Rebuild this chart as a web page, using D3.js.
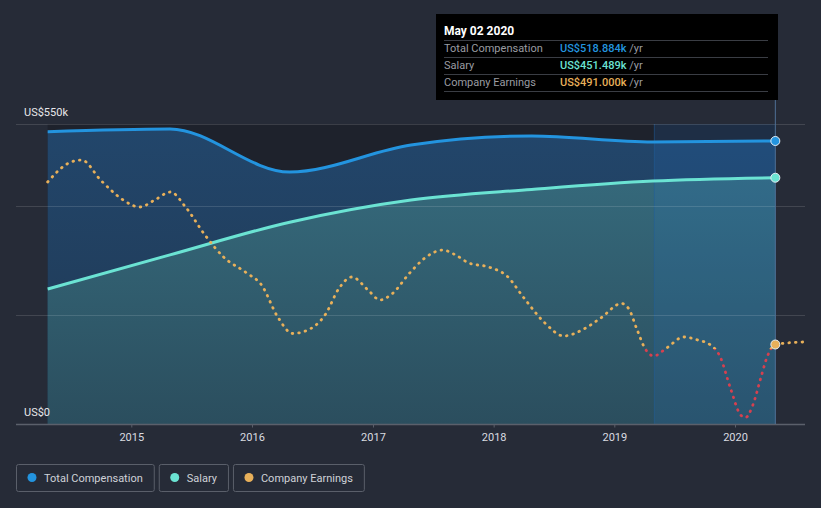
<!DOCTYPE html>
<html>
<head>
<meta charset="utf-8">
<script src="https://cdn.jsdelivr.net/npm/d3@7"></script>
<style>
  html, body { margin: 0; padding: 0; background: #262b37; }
  svg { display: block; font-family: Roboto, "Open Sans", sans-serif; }
</style>
</head>
<body>
<svg id="chart" width="821" height="508"></svg>
<script>
// ---------------- DATA ----------------
const compDates = ["2014-04-23","2015-04-28","2016-04-24","2017-04-26","2018-04-26","2019-04-27","2020-05-02"];
const totalCompensation = [536, 541, 462, 511.5, 528, 517, 518.884]; // US$k
const salary = [247.5, 310, 370, 410.7, 430, 445.5, 451.489];           // US$k

const earningsDates = [
  "2014-04-23","2014-06-26","2014-08-04","2014-09-30","2014-10-31","2014-12-03",
  "2015-01-27","2015-03-13","2015-04-30","2015-06-14","2015-08-14","2015-10-07","2015-12-16",
  "2016-01-30","2016-03-19","2016-05-03","2016-06-11","2016-08-11","2016-09-19","2016-10-29","2016-12-20",
  "2017-01-22","2017-02-27","2017-04-22","2017-06-07","2017-07-31","2017-09-08","2017-10-18","2017-12-17",
  "2018-02-10","2018-04-05","2018-06-05","2018-08-01","2018-10-01","2018-11-21",
  "2019-01-23","2019-02-14","2019-03-10","2019-04-03","2019-04-30","2019-06-08","2019-07-30","2019-09-10","2019-10-19","2019-11-16","2019-12-19",
  "2020-01-18","2020-02-02","2020-02-24","2020-03-19","2020-04-06","2020-05-02","2020-06-05","2020-07-24"
];
const companyEarnings = [
  18260, 20336, 20664, 18477, 17384, 16400,
  15525, 16291, 17165, 15525, 12355, 10059, 8309,
  6997, 3499, 1695, 1968, 3827, 6560, 7872, 6341,
  5357, 6013, 8309, 9949, 10824, 10277, 9403, 8965,
  7981, 5467, 2843, 1421, 2187, 3389,
  4975, 4373, 2187, 109, -765, 109, 1312, 984, 437, -765, -4373,
  -7216, -7489, -6123, -3171, -984, 491, 656, 765
]; // US$k

const yTickValues = [0, 200, 400, 550];
const yTickLabels = {0: "US$0", 550: "US$550k"};
const xTickYears = [2015, 2016, 2017, 2018, 2019, 2020];

const tooltipTitle = "May 02 2020";
const tooltipRows = [
  {label: "Total Compensation", value: "US$518.884k", color: "#2394df"},
  {label: "Salary", value: "US$451.489k", color: "#6be3d3"},
  {label: "Company Earnings", value: "US$491.000k", color: "#e8b05a"}
];
const legendItems = [
  {label: "Total Compensation", color: "#2394df"},
  {label: "Salary", color: "#6be3d3"},
  {label: "Company Earnings", color: "#e8b05a"}
];
const highlightStart = "2019-05-02";
const highlightEnd = "2020-05-02";

// ---------------- SCALES ----------------
const parse = d3.utcParse("%Y-%m-%d");
const svg = d3.select("#chart");

const x = d3.scaleUtc()
  .domain([new Date(Date.UTC(2015,0,1)), new Date(Date.UTC(2020,0,1))])
  .range([131.3, 735]);
const y = d3.scaleLinear().domain([0, 550]).range([424, 124]);
const ey = d3.scaleLinear().domain([-8200, 24600]).range([424, 124]);

const comp = compDates.map((d, i) => ({date: parse(d), total: totalCompensation[i], salary: salary[i]}));
const earn = earningsDates.map((d, i) => ({date: parse(d), v: companyEarnings[i]}));

const x0 = x(comp[0].date), x1 = x(comp[comp.length - 1].date);

const defs = svg.append("defs");
const g1 = defs.append("linearGradient").attr("id", "gTotal").attr("x1", 0).attr("y1", 0).attr("x2", 0).attr("y2", 1);
g1.append("stop").attr("offset", "0%").attr("stop-color", "#22466b");
g1.append("stop").attr("offset", "100%").attr("stop-color", "#203852");
const g2 = defs.append("linearGradient").attr("id", "gSalary").attr("x1", 0).attr("y1", 0).attr("x2", 0).attr("y2", 1);
g2.append("stop").attr("offset", "0%").attr("stop-color", "#35697b");
g2.append("stop").attr("offset", "100%").attr("stop-color", "#2b4e5e");

defs.append("clipPath").attr("id", "clipPos").append("rect")
  .attr("x", 0).attr("y", 0).attr("width", 821).attr("height", ey(0));
defs.append("clipPath").attr("id", "clipNeg").append("rect")
  .attr("x", 0).attr("y", ey(0)).attr("width", 821).attr("height", 508 - ey(0));

// plot dark background
svg.append("rect").attr("x", x0).attr("y", y(550)).attr("width", x1 - x0).attr("height", y(0) - y(550))
  .attr("fill", "#1e222c");

// areas
const curve = d3.curveMonotoneX;
svg.append("path").datum(comp)
  .attr("d", d3.area().x(d => x(d.date)).y0(y(0)).y1(d => y(d.total)).curve(curve))
  .attr("fill", "url(#gTotal)");
svg.append("path").datum(comp)
  .attr("d", d3.area().x(d => x(d.date)).y0(y(0)).y1(d => y(d.salary)).curve(curve))
  .attr("fill", "url(#gSalary)");

// highlight band (last year)
const hx0 = x(parse(highlightStart)), hx1 = x(parse(highlightEnd));
svg.append("rect").attr("x", hx0).attr("y", y(550)).attr("width", hx1 - hx0).attr("height", y(0) - y(550))
  .attr("fill", "#1f78d6").attr("fill-opacity", 0.15);
svg.append("line").attr("x1", hx0).attr("x2", hx0).attr("y1", y(550)).attr("y2", y(0))
  .attr("stroke", "#1f5f9f").attr("stroke-opacity", 0.5);

// gridlines
svg.append("g").selectAll("line").data(yTickValues).join("line")
  .attr("x1", 16).attr("x2", 805)
  .attr("y1", d => Math.round(y(d)) + 0.5).attr("y2", d => Math.round(y(d)) + 0.5)
  .attr("stroke", d => d === 0 ? "#5b606b" : "#ffffff")
  .attr("stroke-opacity", d => d === 0 ? 1 : 0.13)
  .attr("stroke-width", d => d === 0 ? 1.5 : 1);

// y labels
svg.append("g").selectAll("text").data(yTickValues.filter(v => yTickLabels[v])).join("text")
  .attr("x", 24).attr("y", d => y(d) - 8)
  .attr("fill", "#e6e7ea").attr("font-size", 11)
  .text(d => yTickLabels[d]);

// x axis
const xAxis = d3.axisBottom(x)
  .tickValues(xTickYears.map(yr => new Date(Date.UTC(yr, 0, 1))))
  .tickFormat(d3.utcFormat("%Y"))
  .tickSize(3).tickPadding(6);
const ax = svg.append("g").attr("transform", "translate(0,424.5)").call(xAxis);
ax.select(".domain").remove();
ax.selectAll("line").attr("stroke", "#5b606b");
ax.selectAll("text").attr("fill", "#d9dbe0").attr("font-size", 11).attr("font-family", "Roboto, sans-serif");

// lines
svg.append("path").datum(comp)
  .attr("d", d3.line().x(d => x(d.date)).y(d => y(d.salary)).curve(curve))
  .attr("fill", "none").attr("stroke", "#6be3d3").attr("stroke-width", 3);
svg.append("path").datum(comp)
  .attr("d", d3.line().x(d => x(d.date)).y(d => y(d.total)).curve(curve))
  .attr("fill", "none").attr("stroke", "#2394df").attr("stroke-width", 3);

// earnings dotted line (red where negative)
const eLine = d3.line().x(d => x(d.date)).y(d => ey(d.v)).curve(curve);
svg.append("path").datum(earn).attr("d", eLine).attr("clip-path", "url(#clipPos)")
  .attr("fill", "none").attr("stroke", "#e8b05a").attr("stroke-width", 2.8)
  .attr("stroke-linecap", "round").attr("stroke-dasharray", "0.6,6");
svg.append("path").datum(earn).attr("d", eLine).attr("clip-path", "url(#clipNeg)")
  .attr("fill", "none").attr("stroke", "#d6404f").attr("stroke-width", 2.8)
  .attr("stroke-linecap", "round").attr("stroke-dasharray", "0.6,6");

// hover line
svg.append("line").attr("x1", hx1).attr("x2", hx1).attr("y1", 100).attr("y2", 424)
  .attr("stroke", "#4f6f96").attr("stroke-width", 1);

// end points
const last = comp[comp.length - 1];
const lastE = earn.find(d => +d.date === +parse(highlightEnd));
svg.append("circle").attr("cx", x(last.date)).attr("cy", y(last.total)).attr("r", 4.5)
  .attr("fill", "#2394df").attr("stroke", "#e6eef5").attr("stroke-width", 1);
svg.append("circle").attr("cx", x(last.date)).attr("cy", y(last.salary)).attr("r", 4.5)
  .attr("fill", "#6be3d3").attr("stroke", "#e6eef5").attr("stroke-width", 1);
svg.append("circle").attr("cx", x(lastE.date)).attr("cy", ey(lastE.v)).attr("r", 4.5)
  .attr("fill", "#e8b05a").attr("stroke", "#e6eef5").attr("stroke-width", 1);

// tooltip
const tt = svg.append("g");
tt.append("rect").attr("x", 436).attr("y", 14).attr("width", 342).attr("height", 86).attr("fill", "#000");
tt.append("text").attr("x", 444).attr("y", 35).attr("fill", "#ffffff").attr("font-size", 12).attr("font-weight", "bold")
  .text(tooltipTitle);
[40, 57, 74, 91].forEach(yy => {
  tt.append("line").attr("x1", 444).attr("x2", 768).attr("y1", yy + 0.5).attr("y2", yy + 0.5)
    .attr("stroke", "#3a3d44").attr("stroke-width", 1);
});
tooltipRows.forEach((r, i) => {
  const by = 52 + i * 17;
  tt.append("text").attr("x", 444).attr("y", by).attr("fill", "#9a9ca2").attr("font-size", 11).text(r.label);
  const t = tt.append("text").attr("x", 560).attr("y", by).attr("font-size", 11);
  t.append("tspan").attr("fill", r.color).attr("font-weight", 500).text(r.value);
  t.append("tspan").attr("fill", "#9a9ca2").text(" /yr");
});

// legend
const lg = svg.append("g");
let lx = 16;
legendItems.forEach(item => {
  const g = lg.append("g");
  const txt = g.append("text").attr("x", lx + 28).attr("y", 481.5).attr("fill", "#cfd2d8").attr("font-size", 11)
    .text(item.label);
  const w = txt.node().getComputedTextLength() + 39;
  g.insert("rect", "text").attr("x", lx + 0.5).attr("y", 464.5).attr("width", w).attr("height", 27)
    .attr("rx", 2).attr("fill", "none").attr("stroke", "#5a5f6a").attr("stroke-width", 1);
  g.append("circle").attr("cx", lx + 16).attr("cy", 477.5).attr("r", 4.5).attr("fill", item.color);
  lx += w + 5;
});
</script>
</body>
</html>
